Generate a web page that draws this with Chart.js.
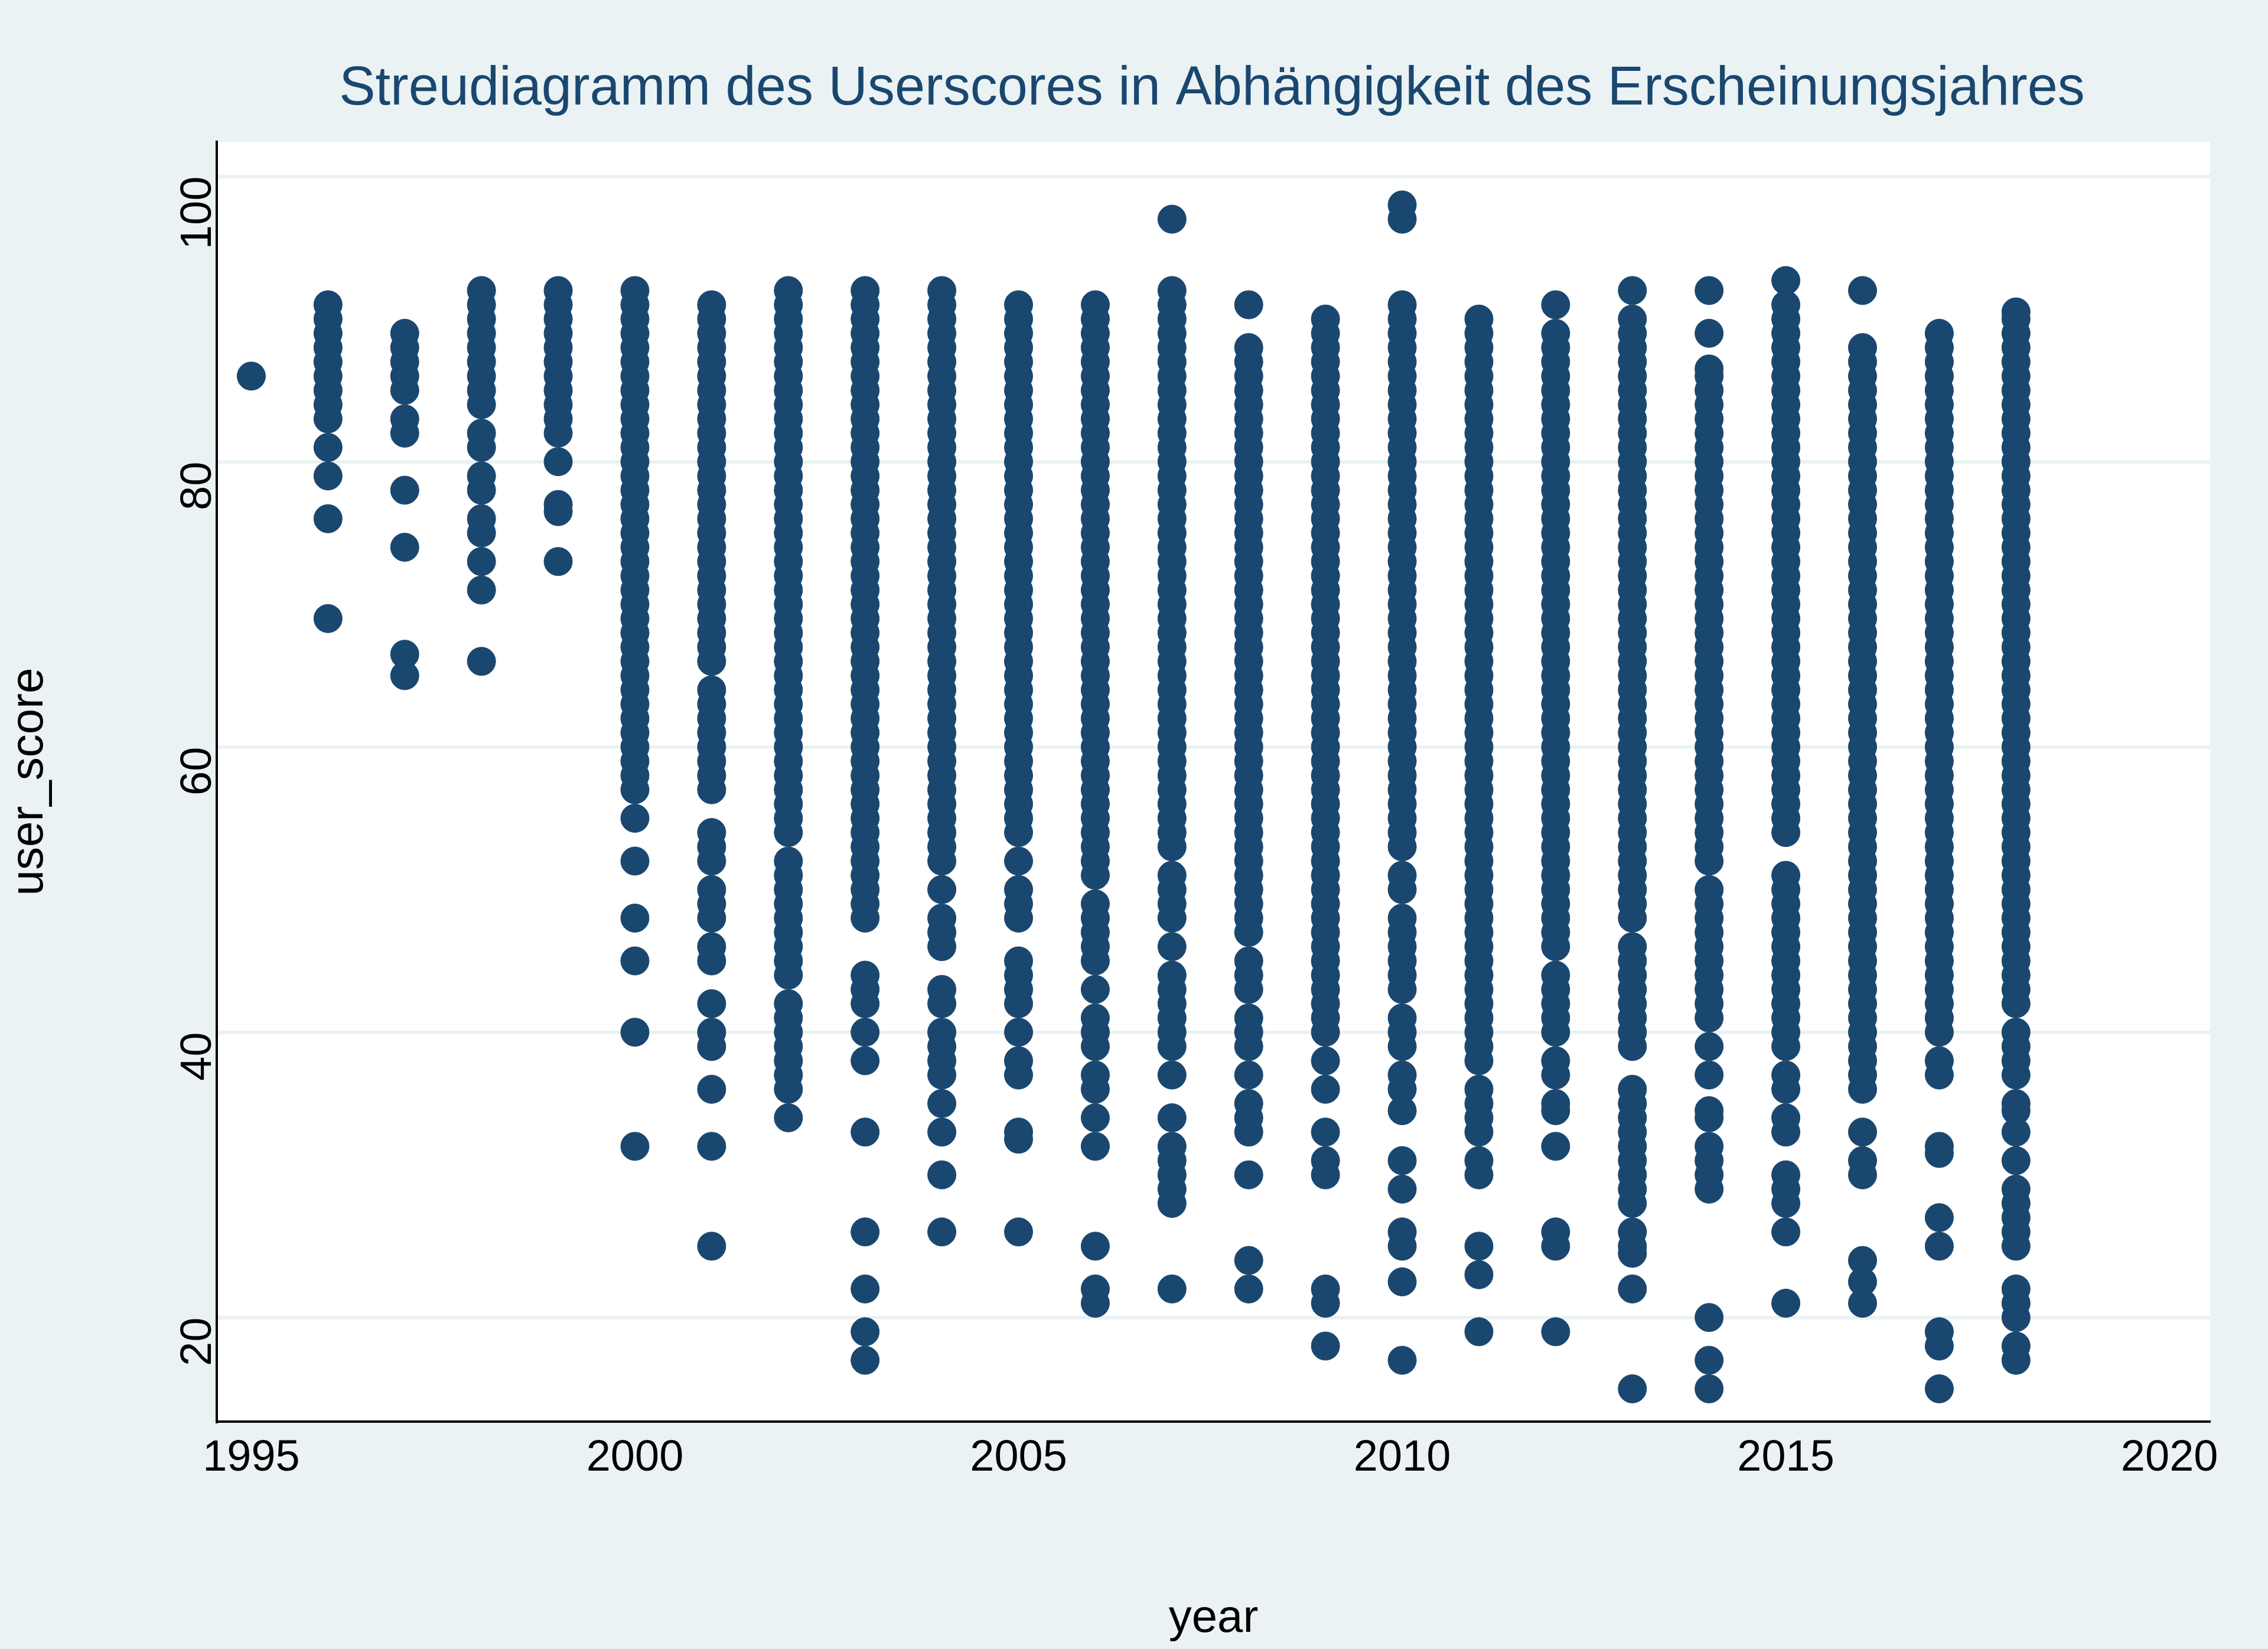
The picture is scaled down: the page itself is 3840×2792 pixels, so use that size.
<!DOCTYPE html>
<html>
<head>
<meta charset="utf-8">
<script src="https://cdn.jsdelivr.net/npm/chart.js@4"></script>
<style>
  html, body { margin: 0; padding: 0; background: #eaf2f3; }
  #wrap { width: 3840px; height: 2792px; }
</style>
</head>
<body>
<div id="wrap"><canvas id="scatter" width="3840" height="2792"></canvas></div>
<script>
const years = [1995, 1996, 1997, 1998, 1999, 2000, 2001, 2002, 2003, 2004, 2005, 2006, 2007, 2008, 2009, 2010, 2011, 2012, 2013, 2014, 2015, 2016, 2017, 2018];

const s1995 = [86];
const s1996 = [91, 90, 89, 88, 87, 86, 85, 84, 83, 81, 79, 76, 69];
const s1997 = [89, 88, 87, 86, 85, 83, 82, 78, 74, 66.5, 65];
const s1998 = [92, 91, 90, 89, 88, 87, 86, 85, 84, 82, 81, 79, 78, 76, 75, 73, 71, 66];
const s1999 = [92, 91, 90, 89, 88, 87, 86, 85, 84, 83, 82, 80, 77, 76.5, 73];
const s2000 = [92, 91, 90, 89, 88, 87, 86, 85, 84, 83, 82, 81, 80, 79, 78, 77, 76, 75, 74, 73, 72, 71, 70, 69, 68, 67, 66, 65, 64, 63, 62, 61, 60, 59, 58, 57, 55, 52, 48, 45, 40, 32];
const s2001 = [91, 90, 89, 88, 87, 86, 85, 84, 83, 82, 81, 80, 79, 78, 77, 76, 75, 74, 73, 72, 71, 70, 69, 68, 67, 66, 64, 63, 62, 61, 60, 59, 58, 57, 54, 53, 52, 50, 49, 48, 46, 45, 42, 40, 39, 36, 32, 25];
const s2002 = [92, 91, 90, 89, 88, 87, 86, 85, 84, 83, 82, 81, 80, 79, 78, 77, 76, 75, 74, 73, 72, 71, 70, 69, 68, 67, 66, 65, 64, 63, 62, 61, 60, 59, 58, 57, 56, 55, 54, 52, 51, 50, 49, 48, 47, 46, 45, 44, 42, 41, 40, 39, 38, 37, 36, 34];
const s2003 = [92, 91, 90, 89, 88, 87, 86, 85, 84, 83, 82, 81, 80, 79, 78, 77, 76, 75, 74, 73, 72, 71, 70, 69, 68, 67, 66, 65, 64, 63, 62, 61, 60, 59, 58, 57, 56, 55, 54, 53, 52, 51, 50, 49, 48, 44, 43, 42, 40, 38, 33, 26, 22, 19, 17];
const s2004 = [92, 91, 90, 89, 88, 87, 86, 85, 84, 83, 82, 81, 80, 79, 78, 77, 76, 75, 74, 73, 72, 71, 70, 69, 68, 67, 66, 65, 64, 63, 62, 61, 60, 59, 58, 57, 56, 55, 54, 53, 52, 50, 48, 47, 46, 43, 42, 40, 39, 38, 37, 35, 33, 30, 26];
const s2005 = [91, 90, 89, 88, 87, 86, 85, 84, 83, 82, 81, 80, 79, 78, 77, 76, 75, 74, 73, 72, 71, 70, 69, 68, 67, 66, 65, 64, 63, 62, 61, 60, 59, 58, 57, 56, 55, 54, 52, 50, 49, 48, 45, 44, 43, 42, 40, 38, 37, 33, 32.5, 26];
const s2006 = [91, 90, 89, 88, 87, 86, 85, 84, 83, 82, 81, 80, 79, 78, 77, 76, 75, 74, 73, 72, 71, 70, 69, 68, 67, 66, 65, 64, 63, 62, 61, 60, 59, 58, 57, 56, 55, 54, 53, 52, 51, 49, 48, 47, 46, 45, 43, 41, 40, 39, 37, 36, 34, 32, 25, 22, 21];
const s2007 = [97, 92, 91, 90, 89, 88, 87, 86, 85, 84, 83, 82, 81, 80, 79, 78, 77, 76, 75, 74, 73, 72, 71, 70, 69, 68, 67, 66, 65, 64, 63, 62, 61, 60, 59, 58, 57, 56, 55, 54, 53, 51, 50, 49, 48, 46, 44, 43, 42, 41, 40, 39, 37, 34, 32, 31, 30, 29, 28, 22];
const s2008 = [91, 88, 87, 86, 85, 84, 83, 82, 81, 80, 79, 78, 77, 76, 75, 74, 73, 72, 71, 70, 69, 68, 67, 66, 65, 64, 63, 62, 61, 60, 59, 58, 57, 56, 55, 54, 53, 52, 51, 50, 49, 48, 47, 45, 44, 43, 41, 40, 39, 37, 35, 34, 33, 30, 24, 22];
const s2009 = [90, 89, 88, 87, 86, 85, 84, 83, 82, 81, 80, 79, 78, 77, 76, 75, 74, 73, 72, 71, 70, 69, 68, 67, 66, 65, 64, 63, 62, 61, 60, 59, 58, 57, 56, 55, 54, 53, 52, 51, 50, 49, 48, 47, 46, 45, 44, 43, 42, 41, 40, 38, 36, 33, 31, 30, 22, 21, 18];
const s2010 = [98, 97, 91, 90, 89, 88, 87, 86, 85, 84, 83, 82, 81, 80, 79, 78, 77, 76, 75, 74, 73, 72, 71, 70, 69, 68, 67, 66, 65, 64, 63, 62, 61, 60, 59, 58, 57, 56, 55, 54, 53, 51, 50, 48, 47, 46, 45, 44, 43, 41, 40, 39, 37, 36, 34.5, 31, 29, 26, 25, 22.5, 17];
const s2011 = [90, 89, 88, 87, 86, 85, 84, 83, 82, 81, 80, 79, 78, 77, 76, 75, 74, 73, 72, 71, 70, 69, 68, 67, 66, 65, 64, 63, 62, 61, 60, 59, 58, 57, 56, 55, 54, 53, 52, 51, 50, 49, 48, 47, 46, 45, 44, 43, 42, 41, 40, 39, 38, 36, 35, 34, 33, 31, 30, 25, 23, 19];
const s2012 = [91, 89, 88, 87, 86, 85, 84, 83, 82, 81, 80, 79, 78, 77, 76, 75, 74, 73, 72, 71, 70, 69, 68, 67, 66, 65, 64, 63, 62, 61, 60, 59, 58, 57, 56, 55, 54, 53, 52, 51, 50, 49, 48, 47, 46, 44, 43, 42, 41, 40, 38, 37, 35, 34.5, 32, 26, 25, 19];
const s2013 = [92, 90, 89, 88, 87, 86, 85, 84, 83, 82, 81, 80, 79, 78, 77, 76, 75, 74, 73, 72, 71, 70, 69, 68, 67, 66, 65, 64, 63, 62, 61, 60, 59, 58, 57, 56, 55, 54, 53, 52, 51, 50, 49, 48, 46, 45, 44, 43, 42, 41, 40, 39, 36, 35, 34, 33, 32, 31, 30, 29, 28, 26, 25, 24.5, 22, 15];
const s2014 = [92, 89, 86.5, 86, 85, 84, 83, 82, 81, 80, 79, 78, 77, 76, 75, 74, 73, 72, 71, 70, 69, 68, 67, 66, 65, 64, 63, 62, 61, 60, 59, 58, 57, 56, 55, 54, 53, 52, 50, 49, 48, 47, 46, 45, 44, 43, 42, 41, 39, 37, 34.5, 34, 32, 31, 30, 29, 20, 17, 15];
const s2015 = [92.7, 91, 90, 89, 88, 87, 86, 85, 84, 83, 82, 81, 80, 79, 78, 77, 76, 75, 74, 73, 72, 71, 70, 69, 68, 67, 66, 65, 64, 63, 62, 61, 60, 59, 58, 57, 56, 55, 54, 51, 50, 49, 48, 47, 46, 45, 44, 43, 42, 41, 40, 39, 37, 36, 34, 33, 30, 29, 28, 26, 21];
const s2016 = [92, 88, 87, 86, 85, 84, 83, 82, 81, 80, 79, 78, 77, 76, 75, 74, 73, 72, 71, 70, 69, 68, 67, 66, 65, 64, 63, 62, 61, 60, 59, 58, 57, 56, 55, 54, 53, 52, 51, 50, 49, 48, 47, 46, 45, 44, 43, 42, 41, 40, 39, 38, 37, 36, 33, 31, 30, 24, 22.5, 21];
const s2017 = [89, 88, 87, 86, 85, 84, 83, 82, 81, 80, 79, 78, 77, 76, 75, 74, 73, 72, 71, 70, 69, 68, 67, 66, 65, 64, 63, 62, 61, 60, 59, 58, 57, 56, 55, 54, 53, 52, 51, 50, 49, 48, 47, 46, 45, 44, 43, 42, 41, 40, 38, 37, 32, 31.5, 27, 25, 19, 18, 15];
const s2018 = [90.5, 90, 89, 88, 87, 86, 85, 84, 83, 82, 81, 80, 79, 78, 77, 76, 75, 74, 73, 72, 71, 70, 69, 68, 67, 66, 65, 64, 63, 62, 61, 60, 59, 58, 57, 56, 55, 54, 53, 52, 51, 50, 49, 48, 47, 46, 45, 44, 43, 42, 40, 39, 38, 37, 35, 34.5, 33, 31, 29, 28, 27, 26, 25, 22, 21, 20, 18, 17];

const scoresByYear = [s1995, s1996, s1997, s1998, s1999, s2000, s2001, s2002, s2003, s2004, s2005, s2006, s2007, s2008, s2009, s2010, s2011, s2012, s2013, s2014, s2015, s2016, s2017, s2018];

const xTicks = [1995, 2000, 2005, 2010, 2015, 2020];
const yTicks = [20, 40, 60, 80, 100];

const points = [];
years.forEach((yr, i) => {
  scoresByYear[i].forEach(v => points.push({ x: yr, y: v }));
});

const navy = '#1a476f';
const FONT = 'Liberation Sans, Arial, sans-serif';

const titlePlugin = {
  id: 'stataTitle',
  beforeDraw(chart) {
    const c = chart.ctx;
    c.save();
    c.fillStyle = '#eaf2f3';
    c.fillRect(0, 0, chart.width, chart.height);
    const a = chart.chartArea;
    c.fillStyle = '#ffffff';
    c.fillRect(a.left, a.top, a.right - a.left, a.bottom - a.top);
    c.fillStyle = navy;
    c.font = '92px ' + FONT;
    c.textAlign = 'center';
    c.textBaseline = 'middle';
    c.fillText('Streudiagramm des Userscores in Abhängigkeit des Erscheinungsjahres', 2052, 152);
    c.restore();
  }
};

new Chart(document.getElementById('scatter').getContext('2d'), {
  type: 'scatter',
  data: {
    datasets: [{
      data: points,
      backgroundColor: navy,
      borderColor: navy,
      pointRadius: 24,
      pointHoverRadius: 24
    }]
  },
  plugins: [titlePlugin],
  options: {
    responsive: false,
    animation: false,
    events: [],
    layout: { padding: { top: 240, right: 98, left: 0, bottom: 0 } },
    plugins: { legend: { display: false }, tooltip: { enabled: false } },
    scales: {
      x: {
        type: 'linear',
        min: 1994.55,
        max: 2020.53,
        afterBuildTicks: axis => { axis.ticks = xTicks.map(v => ({ value: v })); },
        afterFit: axis => { axis.height = 385; },
        grid: { display: false, drawTicks: true },
        border: { display: true, color: '#000000', width: 4 },
        ticks: {
          color: '#000000',
          font: { family: FONT, size: 74 },
          padding: 10,
          maxRotation: 0,
          callback: v => String(v)
        },
        title: {
          display: true,
          text: 'year',
          color: '#000000',
          font: { family: FONT, size: 78 },
          padding: { top: 0 }
        }
      },
      y: {
        type: 'linear',
        min: 12.7,
        max: 102.43,
        afterBuildTicks: axis => { axis.ticks = yTicks.map(v => ({ value: v })); },
        afterFit: axis => { axis.width = 367; },
        grid: { color: '#eaf2f3', lineWidth: 6, drawTicks: false },
        border: { display: true, color: '#000000', width: 4 },
        ticks: {
          color: '#000000',
          font: { family: FONT, size: 74 },
          padding: 30,
          minRotation: 90,
          maxRotation: 90,
          callback: v => String(v)
        },
        title: {
          display: true,
          text: 'user_score',
          color: '#000000',
          font: { family: FONT, size: 78 },
          padding: { bottom: 10 }
        }
      }
    }
  }
});
</script>
</body>
</html>
